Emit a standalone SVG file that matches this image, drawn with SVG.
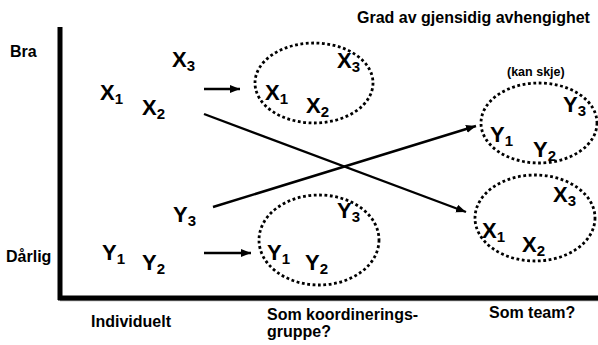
<svg xmlns="http://www.w3.org/2000/svg" width="598" height="345" viewBox="0 0 598 345">
<style>
.t{font-family:"Liberation Sans",Arial,sans-serif;font-weight:bold;fill:#000}
.lab{font-size:16px}
.small{font-size:12.5px}
.v{font-size:22px}
.v tspan{font-size:15px}
.grp{fill:none;stroke:#000;stroke-width:2.8;stroke-dasharray:2.8 2.6}
.con{stroke:#000;stroke-width:2.4;fill:none}
.axis{stroke:#000;stroke-width:5;fill:none}
</style>
<defs>
<marker id="ah" markerUnits="userSpaceOnUse" markerWidth="11" markerHeight="9" refX="10" refY="4" orient="auto">
<path d="M0,0 L10,4 L0,8 z" fill="#000"/>
</marker>
</defs>
<g id="axes">
<line class="axis" x1="60" y1="27" x2="60" y2="300"/>
<line x1="60" y1="300.5" x2="598" y2="300.5" stroke="#999" stroke-width="1.5"/>
<line class="axis" x1="58" y1="298" x2="598" y2="298"/>
</g>
<g id="labels">
<text class="t lab" x="357" y="23">Grad av gjensidig avhengighet</text>
<text class="t lab" x="10" y="57">Bra</text>
<text class="t lab" x="6" y="262">Dårlig</text>
<text class="t lab" x="91" y="327">Individuelt</text>
<text class="t lab" x="267" y="320">Som koordinerings-</text>
<text class="t lab" x="267" y="337">gruppe?</text>
<text class="t lab" x="489" y="318">Som team?</text>
<text class="t small" x="507" y="76">(kan skje)</text>
</g>
<g id="individual-x">
<text class="t v" x="100" y="100">X<tspan dy="4">1</tspan></text>
<text class="t v" x="142" y="115">X<tspan dy="4">2</tspan></text>
<text class="t v" x="172" y="67">X<tspan dy="4">3</tspan></text>
</g>
<g id="individual-y">
<text class="t v" x="102" y="260">Y<tspan dy="4">1</tspan></text>
<text class="t v" x="142" y="270">Y<tspan dy="4">2</tspan></text>
<text class="t v" x="173" y="222">Y<tspan dy="4">3</tspan></text>
</g>
<g id="coord-x">
<ellipse class="grp" cx="314" cy="83" rx="59" ry="40"/>
<text class="t v" x="265" y="100">X<tspan dy="4">1</tspan></text>
<text class="t v" x="306" y="113">X<tspan dy="4">2</tspan></text>
<text class="t v" x="337" y="68">X<tspan dy="4">3</tspan></text>
</g>
<g id="coord-y">
<ellipse class="grp" cx="319" cy="240" rx="60" ry="45"/>
<text class="t v" x="267" y="260">Y<tspan dy="4">1</tspan></text>
<text class="t v" x="305" y="270">Y<tspan dy="4">2</tspan></text>
<text class="t v" x="337" y="218">Y<tspan dy="4">3</tspan></text>
</g>
<g id="team-y">
<ellipse class="grp" cx="539" cy="123" rx="58" ry="40"/>
<text class="t v" x="490" y="142">Y<tspan dy="4">1</tspan></text>
<text class="t v" x="533" y="157">Y<tspan dy="4">2</tspan></text>
<text class="t v" x="563" y="112">Y<tspan dy="4">3</tspan></text>
</g>
<g id="team-x">
<ellipse class="grp" cx="535" cy="218" rx="60" ry="43"/>
<text class="t v" x="482" y="238">X<tspan dy="4">1</tspan></text>
<text class="t v" x="522" y="252">X<tspan dy="4">2</tspan></text>
<text class="t v" x="553" y="202">X<tspan dy="4">3</tspan></text>
</g>
<g id="connectors">
<line class="con" x1="204" y1="89" x2="240" y2="89" marker-end="url(#ah)"/>
<line class="con" x1="204" y1="253" x2="251" y2="253" marker-end="url(#ah)"/>
<line class="con" x1="204" y1="114" x2="466" y2="212" marker-end="url(#ah)"/>
<line class="con" x1="213" y1="207" x2="476" y2="126" marker-end="url(#ah)"/>
</g>
</svg>
